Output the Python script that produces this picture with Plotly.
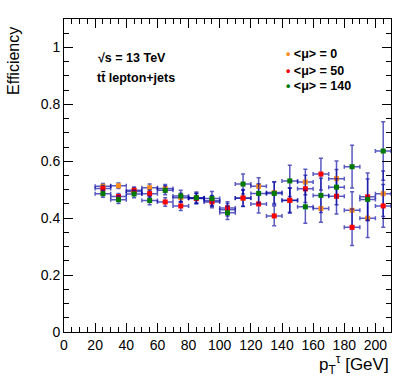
import plotly.graph_objects as go

# tau pT bin centres (GeV) and half widths
pt_center = [25, 35, 45, 55, 65, 75, 85, 95, 105, 115, 125, 135, 145, 155, 165, 175, 185, 195, 205]
pt_halfwidth = [5] * 19

eff_mu0 = [0.512, 0.514, 0.494, 0.507, 0.504, 0.472, 0.471, 0.461, 0.430, 0.470, 0.512, 0.490, 0.462, 0.527, 0.434, 0.539, 0.428, 0.400, 0.486]
eff_mu50 = [0.504, 0.476, 0.498, 0.486, 0.457, 0.443, 0.469, 0.457, 0.436, 0.471, 0.450, 0.408, 0.463, 0.503, 0.555, 0.477, 0.368, 0.475, 0.443]
eff_mu140 = [0.486, 0.465, 0.485, 0.462, 0.498, 0.478, 0.472, 0.469, 0.419, 0.520, 0.487, 0.487, 0.531, 0.440, 0.480, 0.509, 0.581, 0.466, 0.636]

err_mu0 = [0.010, 0.010, 0.012, 0.013, 0.014, 0.016, 0.017, 0.019, 0.022, 0.028, 0.030, 0.038, 0.045, 0.045, 0.048, 0.062, 0.065, 0.068, 0.080]
err_mu50 = [0.011, 0.011, 0.012, 0.013, 0.015, 0.016, 0.018, 0.020, 0.022, 0.030, 0.032, 0.035, 0.042, 0.048, 0.056, 0.062, 0.064, 0.084, 0.075]
err_mu140 = [0.012, 0.013, 0.013, 0.015, 0.016, 0.020, 0.020, 0.025, 0.024, 0.035, 0.034, 0.040, 0.055, 0.058, 0.060, 0.062, 0.075, 0.072, 0.103]

series = [
    ("<μ> = 0", eff_mu0, err_mu0, "#ff8c1a"),
    ("<μ> = 50", eff_mu50, err_mu50, "#ff0000"),
    ("<μ> = 140", eff_mu140, err_mu140, "#007a00"),
]

ERR_COLOUR = "rgba(0,0,160,0.65)"
FONT = "Liberation Sans, Arial, Helvetica, sans-serif"

fig = go.Figure()
for name, eff, err, col in series:
    fig.add_trace(go.Scatter(
        x=pt_center, y=eff, mode="markers", name=name,
        marker=dict(symbol="square", size=5, color=col, line=dict(width=0)),
        error_x=dict(type="data", array=pt_halfwidth, color=ERR_COLOUR, thickness=1.5, width=2),
        error_y=dict(type="data", array=err, color=ERR_COLOUR, thickness=1.5, width=2),
        showlegend=False,
    ))

# legend drawn as text, like the ROOT TLegend
leg_y = [0.887, 0.835, 0.786]
for (name, eff, err, col), yy in zip(series, leg_y):
    fig.add_annotation(
        text=f'<span style="color:{col}">•</span> {name}'.replace("<μ>", "&lt;μ&gt;"),
        xref="paper", yref="paper", x=0.672, y=yy,
        xanchor="left", yanchor="middle", showarrow=False,
        font=dict(family=FONT, size=12.5, color="black", weight="bold"),
    )

fig.add_annotation(
    text="√s = 13 TeV", xref="paper", yref="paper", x=0.098, y=0.875,
    xanchor="left", yanchor="middle", showarrow=False,
    font=dict(family=FONT, size=12.5, color="black", weight="bold"),
)
fig.add_annotation(
    text="tt\u0304 lepton+jets", xref="paper", yref="paper", x=0.095, y=0.811,
    xanchor="left", yanchor="middle", showarrow=False,
    font=dict(family=FONT, size=12.5, color="black", weight="bold"),
)

# axis titles placed like ROOT (right / top aligned)
fig.add_annotation(
    text="Efficiency", xref="paper", yref="paper", x=-0.155, y=0.982,
    xanchor="center", yanchor="top", textangle=-90, showarrow=False,
    font=dict(family=FONT, size=16, color="black"),
)
fig.add_annotation(
    text="p<sub>T</sub><sup>τ</sup> [GeV]", xref="paper", yref="paper", x=1.0, y=-0.105,
    xanchor="right", yanchor="middle", showarrow=False,
    font=dict(family=FONT, size=17, color="black"),
)

axis_common = dict(
    showgrid=False, zeroline=False, showline=True, linecolor="black", linewidth=1,
    mirror="allticks", ticks="inside", tickcolor="black", tickwidth=1,
    tickfont=dict(family=FONT, size=14, color="black"),
)
fig.update_xaxes(
    range=[0, 210], dtick=20, tick0=0, ticklen=9,
    minor=dict(dtick=5, ticklen=5, ticks="inside", tickcolor="black", showgrid=False),
    **axis_common,
)
fig.update_yaxes(
    range=[0, 1.1], dtick=0.2, tick0=0, ticklen=9,
    minor=dict(dtick=0.05, ticklen=5, ticks="inside", tickcolor="black", showgrid=False),
    **axis_common,
)

fig.update_layout(
    width=399, height=383,
    margin=dict(l=64, r=8, t=19, b=51),
    plot_bgcolor="white", paper_bgcolor="white",
    font=dict(family=FONT),
)

# drop the browser's default body margin so the 399x383 figure fills the window
fig.write_html(
    "out.html",
    config={"displayModeBar": False},
    post_script="document.body.style.margin='0';",
)
